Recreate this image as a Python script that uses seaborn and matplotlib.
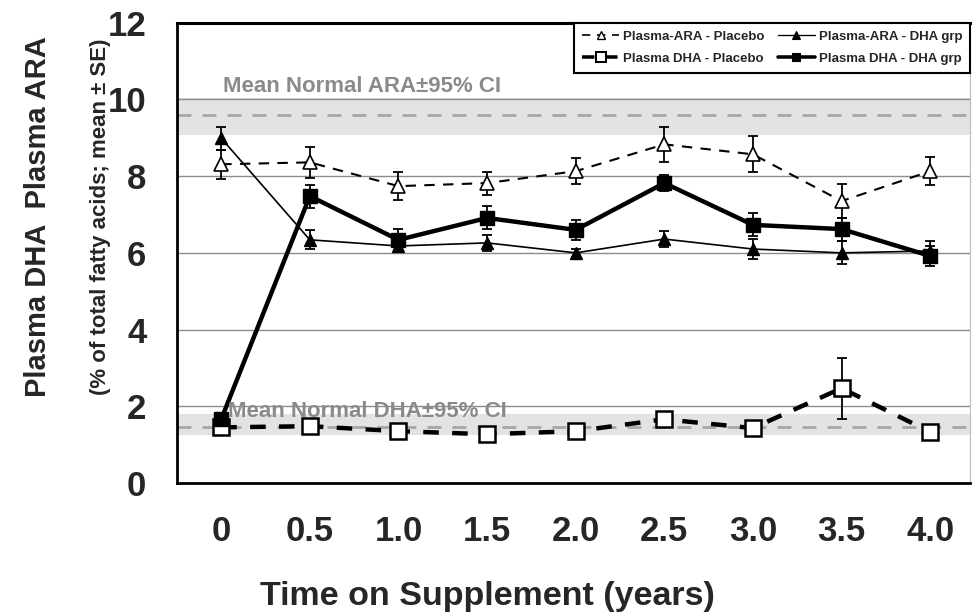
import numpy as np
import pandas as pd
import matplotlib
matplotlib.use("Agg")
import matplotlib.pyplot as plt
from matplotlib.ticker import MultipleLocator
from matplotlib.lines import Line2D
import seaborn as sns

# ---- data ----
years = [0, 0.5, 1.0, 1.5, 2.0, 2.5, 3.0, 3.5, 4.0]
year_labels = ["0", "0.5", "1.0", "1.5", "2.0", "2.5", "3.0", "3.5", "4.0"]

ara_placebo = [8.31, 8.36, 7.74, 7.82, 8.13, 8.83, 8.57, 7.35, 8.13]
ara_placebo_se = [0.38, 0.40, 0.37, 0.30, 0.34, 0.45, 0.47, 0.45, 0.37]

ara_dha = [8.99, 6.34, 6.18, 6.26, 6.00, 6.36, 6.10, 6.00, 6.05]
ara_dha_se = [0.30, 0.25, 0.15, 0.20, 0.10, 0.20, 0.25, 0.30, 0.25]

dha_placebo = [1.45, 1.48, 1.35, 1.27, 1.35, 1.66, 1.43, 2.47, 1.33]
dha_placebo_se = [0.08, 0.10, 0.08, 0.06, 0.08, 0.20, 0.10, 0.80, 0.08]

dha_dha = [1.66, 7.48, 6.34, 6.91, 6.60, 7.82, 6.73, 6.62, 5.92]
dha_dha_se = [0.05, 0.30, 0.27, 0.30, 0.27, 0.20, 0.30, 0.30, 0.25]

ara_normal_mean, ara_normal_lo, ara_normal_hi = 9.60, 9.08, 10.05
dha_normal_mean, dha_normal_lo, dha_normal_hi = 1.45, 1.24, 1.79

series_names = ["Plasma-ARA - Placebo", "Plasma-ARA - DHA grp",
                "Plasma DHA - Placebo", "Plasma DHA - DHA grp"]

df = pd.DataFrame({
    "year": years * 4,
    "value": ara_placebo + ara_dha + dha_placebo + dha_dha,
    "se": ara_placebo_se + ara_dha_se + dha_placebo_se + dha_dha_se,
    "series": sum([[s] * len(years) for s in series_names], []),
})

# ---- style ----
sns.set_theme(style="white")
plt.rcParams["font.family"] = ["Liberation Sans", "DejaVu Sans"]
plt.rcParams["font.weight"] = "bold"

fig = plt.figure(figsize=(9.72, 6.16), dpi=100)
ax = fig.add_axes([0.182, 0.216, 0.816, 0.747])

grey_band = "#e3e3e3"
grey_line = "#a6a6a6"
grey_text = "#8a8a8a"

ax.set_xlim(-0.25, 4.225)
ax.set_ylim(0, 12)

# gridlines
for g in [2, 4, 6, 8, 10]:
    ax.axhline(g, color="#8c8c8c", lw=1.0, zorder=1)

# normal bands
ax.axhspan(ara_normal_lo, ara_normal_hi, color=grey_band, zorder=0.5, lw=0)
ax.axhline(ara_normal_mean, color=grey_line, lw=2.0, ls=(0, (5, 4)), zorder=1.2)
ax.axhspan(dha_normal_lo, dha_normal_hi, color=grey_band, zorder=0.5, lw=0)
ax.axhline(dha_normal_mean, color=grey_line, lw=2.0, ls=(0, (5, 4)), zorder=1.2)

ax.text(0.01, 10.34, "Mean Normal ARA\u00b195% CI", color=grey_text,
        fontsize=16, fontweight="bold", va="center", ha="left", zorder=2)
ax.text(0.04, 1.87, "Mean Normal DHA\u00b195% CI", color=grey_text,
        fontsize=16, fontweight="bold", va="center", ha="left", zorder=5)

styles = {
    "Plasma-ARA - Placebo": dict(ls=(0, (5, 4)), lw=1.5, marker="^", mfc="white", ms=10, mew=1.2),
    "Plasma-ARA - DHA grp": dict(ls="-", lw=1.2, marker="^", mfc="black", ms=9, mew=1.0),
    "Plasma DHA - Placebo": dict(ls=(0, (3.5, 3)), lw=3.2, marker="s", mfc="white", ms=11, mew=1.8),
    "Plasma DHA - DHA grp": dict(ls="-", lw=3.2, marker="s", mfc="black", ms=10, mew=1.0),
}

for name in series_names:
    sub = df[df["series"] == name]
    st = styles[name]
    ax.errorbar(sub["year"], sub["value"], yerr=sub["se"], fmt="none",
                ecolor="black", elinewidth=1.3, capsize=3.5, capthick=1.3, zorder=3)
    sns.lineplot(data=sub, x="year", y="value", ax=ax, color="black",
                 linestyle="-", lw=st["lw"], marker=st["marker"], markersize=st["ms"],
                 markerfacecolor=st["mfc"], markeredgecolor="black",
                 markeredgewidth=st["mew"], zorder=4, legend=False)
    line = ax.get_lines()[-1]
    line.set_linestyle(st["ls"])

# ticks
ax.set_xticks(years)
ax.set_xticklabels(year_labels)
ax.xaxis.set_minor_locator(MultipleLocator(0.25))
ax.set_yticks(range(0, 13, 2))
ax.yaxis.set_minor_locator(MultipleLocator(0.5))
ax.tick_params(axis="both", which="both", direction="in", length=7, width=1,
               color="#555555", labelsize=25)
ax.tick_params(axis="x", which="major", pad=23)
ax.tick_params(axis="y", which="major", pad=22)
ax.tick_params(top=False, right=False, which="both")
for lbl in ax.get_xticklabels() + ax.get_yticklabels():
    lbl.set_fontweight("bold")

for side in ["left", "bottom", "top", "right"]:
    ax.spines[side].set_visible(True)
    ax.spines[side].set_color("black")
ax.spines["left"].set_linewidth(2)
ax.spines["bottom"].set_linewidth(2)
ax.spines["top"].set_linewidth(2.2)
ax.spines["right"].set_linewidth(0.8)
ax.spines["right"].set_color("#bbbbbb")

ax.set_xlabel("")
ax.set_ylabel("")
fig.text(0.501, 0.032, "Time on Supplement (years)", fontsize=24.5,
         fontweight="bold", ha="center", va="center")
fig.text(0.039, 0.648, "Plasma DHA  Plasma ARA", rotation=90, fontsize=21,
         fontweight="bold", ha="center", va="center")
fig.text(0.103, 0.648, "(% of total fatty acids; mean \u00b1 SE)", rotation=90,
         fontsize=16, fontweight="bold", ha="center", va="center")

# legend
handles = []
for name in [series_names[0], series_names[2], series_names[1], series_names[3]]:
    st = styles[name]
    handles.append(Line2D([], [], color="black", ls=st["ls"], lw=st["lw"] * 0.8,
                          marker=st["marker"], mfc=st["mfc"], mec="black",
                          ms=st["ms"] * 0.6, mew=st["mew"] * 0.8, label=name))
leg = ax.legend(handles=handles, ncol=2, loc="upper right",
                bbox_to_anchor=(1.0, 1.0), borderaxespad=0.0, frameon=True,
                fancybox=False, edgecolor="black", framealpha=1,
                handlelength=2.8, handletextpad=0.3, columnspacing=1.0,
                borderpad=0.6, labelspacing=0.75, prop={"weight": "bold", "size": 9.5})
leg.get_frame().set_linewidth(1.5)
leg.set_zorder(10)

fig.savefig("out.png", dpi=100)
